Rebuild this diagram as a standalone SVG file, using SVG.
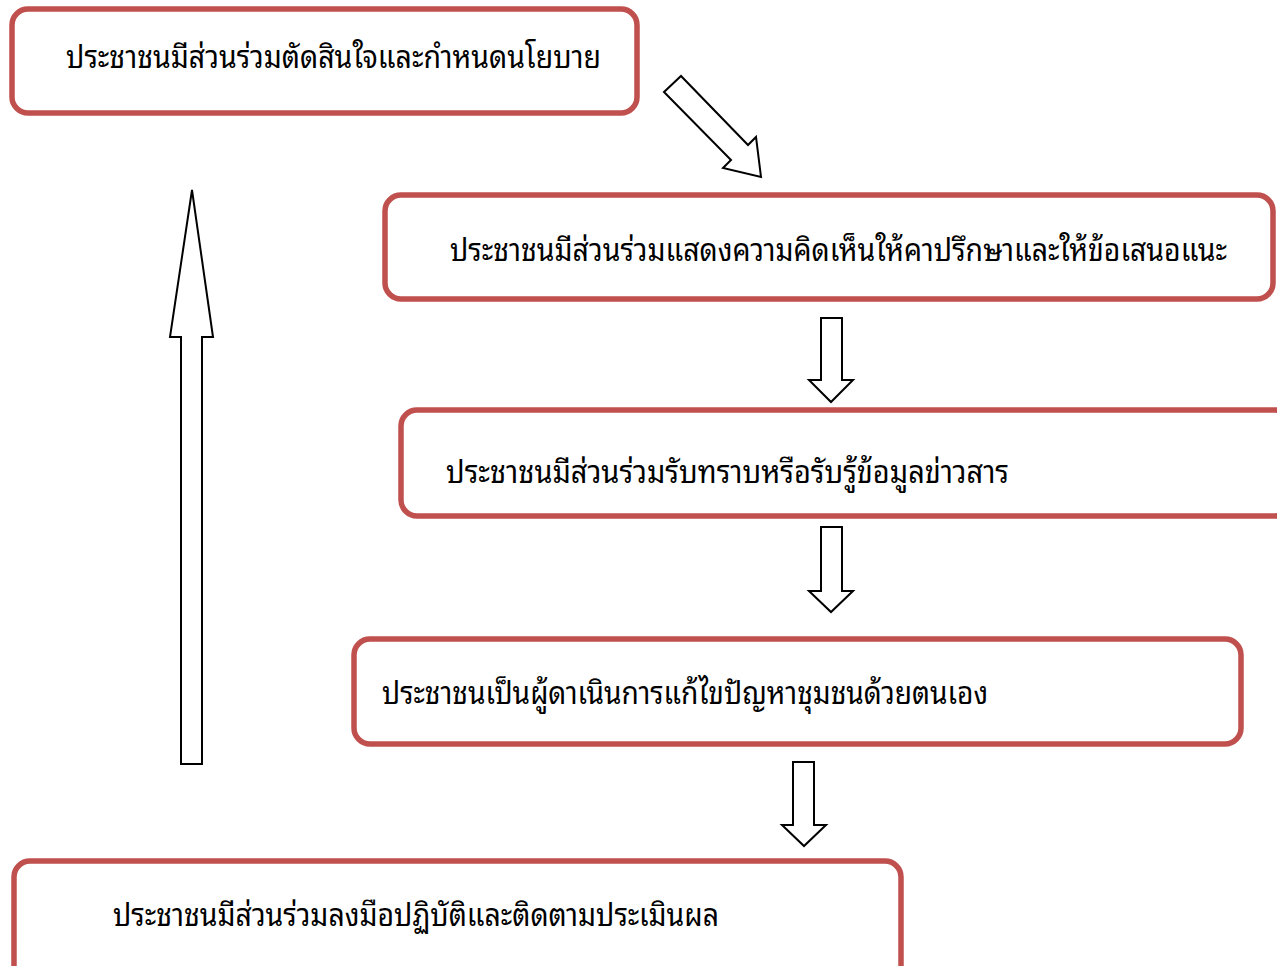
<svg xmlns="http://www.w3.org/2000/svg" width="1277" height="966" viewBox="0 0 1277 966">
<style>
.box{fill:#fff;stroke:#C0504D;stroke-width:5.5}
.lbl{font-family:"Noto Sans Thai Looped","Noto Sans Thai","Noto Sans","DejaVu Sans","Liberation Sans",sans-serif;font-size:31px;fill:#000}
.arr{fill:#fff;stroke:#000;stroke-width:2;stroke-linejoin:miter}
</style>
<rect width="1277" height="966" fill="#fff"/>
<g id="n1"><rect class="box" x="12" y="9" width="625" height="104" rx="16"/><text class="lbl" x="66" y="68" textLength="535" lengthAdjust="spacingAndGlyphs">ประชาชนมีส่วนร่วมตัดสินใจและกำหนดนโยบาย</text></g>
<g id="n2"><rect class="box" x="385" y="195" width="888" height="104" rx="16"/><text class="lbl" x="450" y="261" textLength="777" lengthAdjust="spacingAndGlyphs">ประชาชนมีส่วนร่วมแสดงความคิดเห็นให้คาปรึกษาและให้ข้อเสนอแนะ</text></g>
<g id="n3"><rect class="box" x="401" y="410" width="890" height="106" rx="16"/><text class="lbl" x="446" y="483" textLength="563" lengthAdjust="spacingAndGlyphs">ประชาชนมีส่วนร่วมรับทราบหรือรับรู้ข้อมูลข่าวสาร</text></g>
<g id="n4"><rect class="box" x="354" y="639" width="887" height="105" rx="16"/><text class="lbl" x="382" y="704" textLength="606" lengthAdjust="spacingAndGlyphs">ประชาชนเป็นผู้ดาเนินการแก้ไขปัญหาชุมชนด้วยตนเอง</text></g>
<g id="n5"><rect class="box" x="14" y="861" width="887" height="120" rx="16"/><text class="lbl" x="113" y="926" textLength="606" lengthAdjust="spacingAndGlyphs">ประชาชนมีส่วนร่วมลงมือปฏิบัติและติดตามประเมินผล</text></g>
<g id="connectors">
<polygon class="arr" points="664,92 681,76 748,145 756,137 761,177 723,168 731,160"/>
<polygon class="arr" points="821,318 842,318 842,380 853,380 831,402 809,380 821,380"/>
<polygon class="arr" points="821,527 842,527 842,591 853,591 831,612 809,591 821,591"/>
<polygon class="arr" points="793,762 814,762 814,825 826,825 804,846 782,825 793,825"/>
<polygon class="arr" points="192,190 213,337 202,337 202,764 181,764 181,337 170,337"/>
</g>
</svg>
